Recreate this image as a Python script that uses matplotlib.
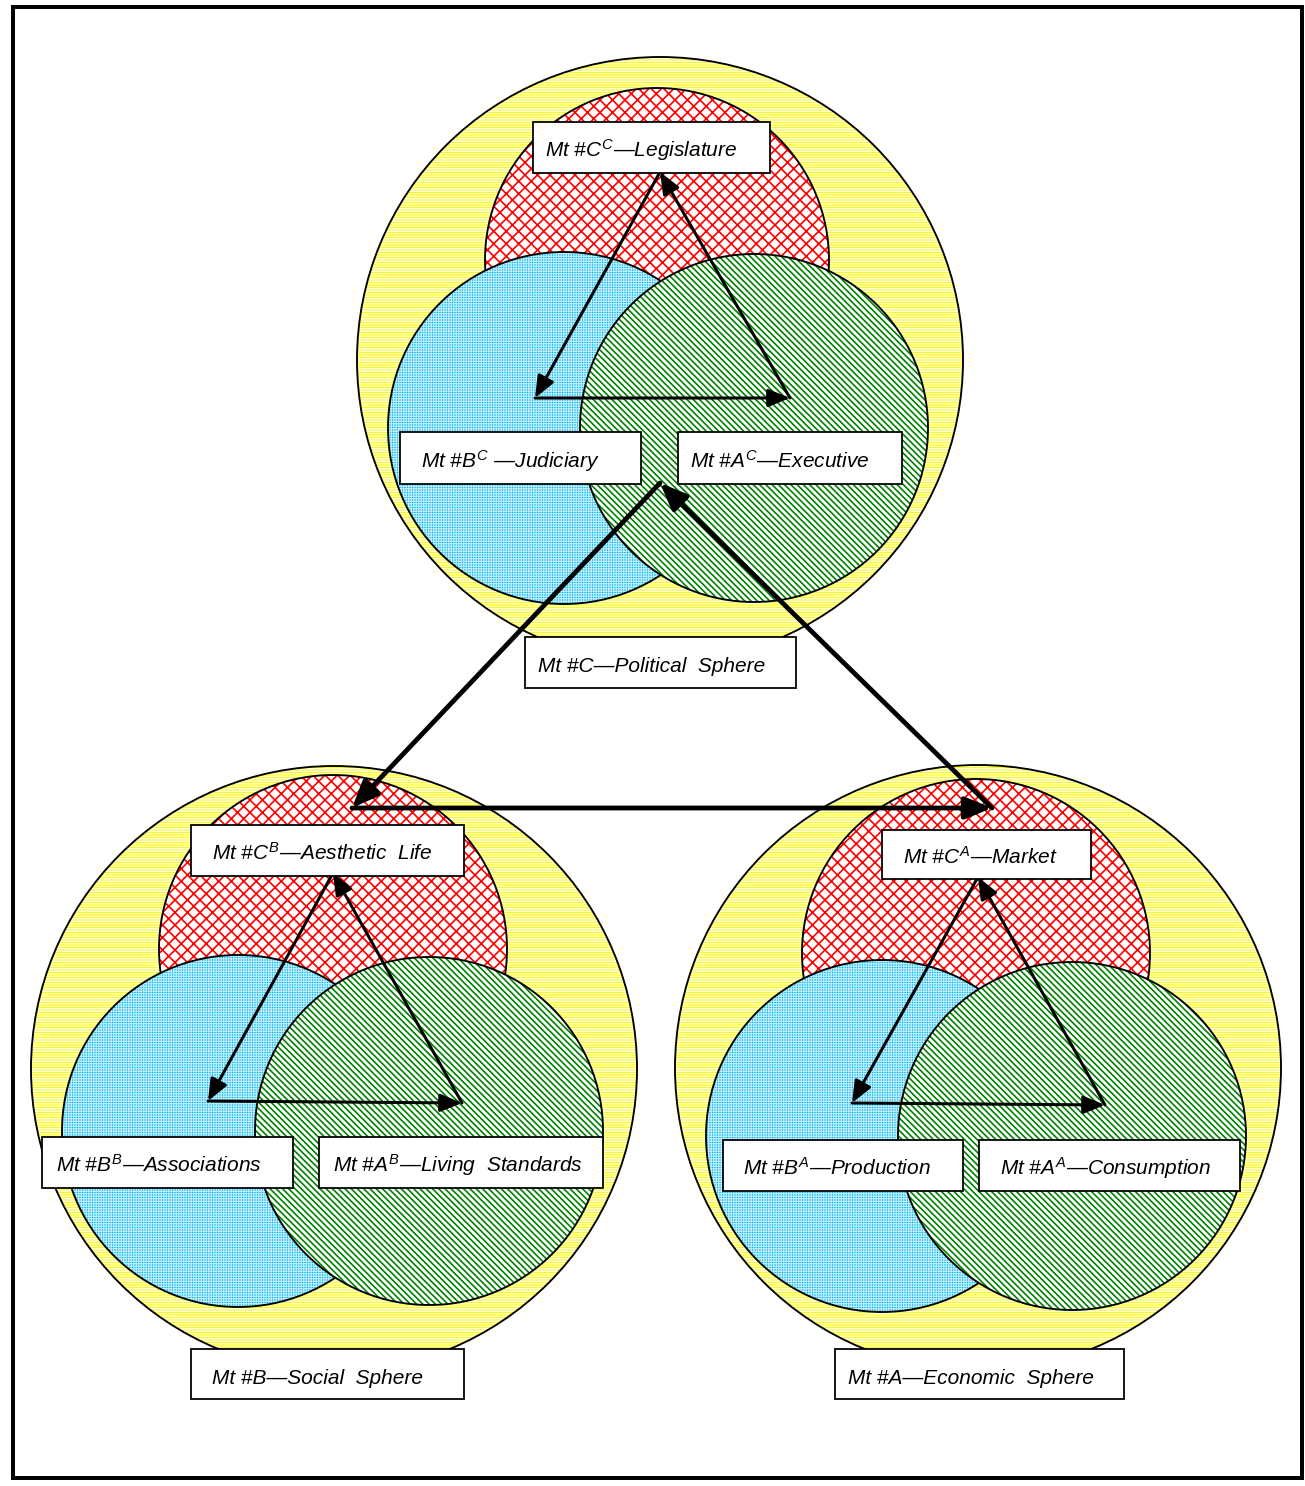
import matplotlib
matplotlib.use("Agg")
import matplotlib.pyplot as plt
from matplotlib import font_manager
from matplotlib.patches import Circle, Rectangle, FancyArrowPatch

# Three spheres: yellow outer circle plus red / blue / green sub-circles (pixel coords).
sphere_names = ["C", "B", "A"]
outer_circles = [(660, 360, 303), (334, 1069, 303), (978, 1068, 303)]
red_circles = [(657, 260, 172), (333, 949, 174), (976, 953, 174)]
blue_circles = [(564, 428, 176), (238, 1131, 176), (882, 1136, 176)]
green_circles = [(754, 428, 174), (429, 1131, 174), (1072, 1136, 174)]

# Inner arrow triangles: top, bottom-left, bottom-right corners.
inner_triangles = [
    [(660, 172), (535, 398), (790, 398)],
    [(333, 873), (208, 1101), (462, 1103)],
    [(978, 877), (852, 1103), (1105, 1105)],
]
outer_triangle = [(660, 483), (352, 808), (992, 808)]

# Label boxes: (left, top, right, bottom), text x, text.
box_edges = [
    (533, 122, 770, 173), (400, 432, 641, 484), (678, 432, 902, 484), (525, 637, 796, 688),
    (191, 825, 464, 876), (42, 1137, 293, 1188), (319, 1137, 603, 1188), (191, 1349, 464, 1399),
    (882, 830, 1091, 879), (723, 1140, 963, 1191), (979, 1140, 1240, 1191), (835, 1349, 1124, 1399),
]
text_x = [545, 421, 690, 538, 212, 56, 333, 212, 903, 743, 1000, 848]
box_texts = [
    r"Mt #$C^{C}$—Legislature",
    r"Mt #$B^{C}$ —Judiciary",
    r"Mt #$A^{C}$—Executive",
    "Mt #C—Political  Sphere",
    r"Mt #$C^{B}$—Aesthetic  Life",
    r"Mt #$B^{B}$—Associations",
    r"Mt #$A^{B}$—Living  Standards",
    "Mt #B—Social  Sphere",
    r"Mt #$C^{A}$—Market",
    r"Mt #$B^{A}$—Production",
    r"Mt #$A^{A}$—Consumption",
    "Mt #A—Economic  Sphere",
]

names = {f.name for f in font_manager.fontManager.ttflist}
if "Liberation Sans Narrow" in names:
    fam, fs = "Liberation Sans Narrow", 25
else:
    fam, fs = "Liberation Sans", 20
plt.rcParams["mathtext.fontset"] = "custom"
plt.rcParams["mathtext.it"] = fam + ":italic"
plt.rcParams["mathtext.rm"] = fam + ":italic"
plt.rcParams["mathtext.sf"] = fam + ":italic"

DPI = 75
fig = plt.figure(figsize=(1305 / DPI, 1486 / DPI), dpi=DPI)
ax = fig.add_axes([0, 0, 1, 1])
ax.set_xlim(0, 1305)
ax.set_ylim(1486, 0)
ax.axis("off")


def hatched_circle(c, face, hcolor, hatch, hlw, z):
    x, y, r = c
    with plt.rc_context({"hatch.linewidth": hlw}):
        p = Circle((x, y), r, facecolor=face, edgecolor=hcolor, hatch=hatch, lw=0, zorder=z)
        if hasattr(p, "set_hatch_linewidth"):
            p.set_hatch_linewidth(hlw)
        ax.add_patch(p)
    ax.add_patch(Circle((x, y), r, fill=False, edgecolor="black", lw=1.8, zorder=z + 0.5))


for i in range(3):
    z = 1 + i * 0.01
    hatched_circle(outer_circles[i], "#ffff00", "white", "-----", 1.3, z)
    hatched_circle(red_circles[i], "white", "#ff0000", "xx", 1.6, z + 1)
    hatched_circle(blue_circles[i], "#00b8f0", "#c4eefc", "+++++", 1.0, z + 2)
    hatched_circle(green_circles[i], "white", "#008000", "\\\\\\\\", 1.6, z + 3)


def arrow_cycle(pts, lw, scale):
    for k in range(3):
        a = pts[k]
        b = pts[(k + 1) % 3]
        ax.add_patch(FancyArrowPatch(a, b, arrowstyle="-|>,head_length=0.8,head_width=0.33",
                                     mutation_scale=scale, lw=lw, color="black",
                                     shrinkA=0, shrinkB=0, zorder=8))


for tri in inner_triangles:
    arrow_cycle(tri, 2.9, 22)
arrow_cycle(outer_triangle, 4.6, 27)

for (l, t, r, b), tx, s in zip(box_edges, text_x, box_texts):
    ax.add_patch(Rectangle((l, t), r - l, b - t, facecolor="white", edgecolor="black",
                           lw=1.7, zorder=10))
    ax.text(tx, (t + b) / 2 + 9.5, s, fontsize=fs, family=fam, style="italic",
            ha="left", va="baseline", zorder=11)

# outer frame
ax.add_patch(Rectangle((13, 7), 1289, 1471, fill=False, edgecolor="black", lw=3.8, zorder=12))

fig.savefig("out.png", dpi=DPI)
